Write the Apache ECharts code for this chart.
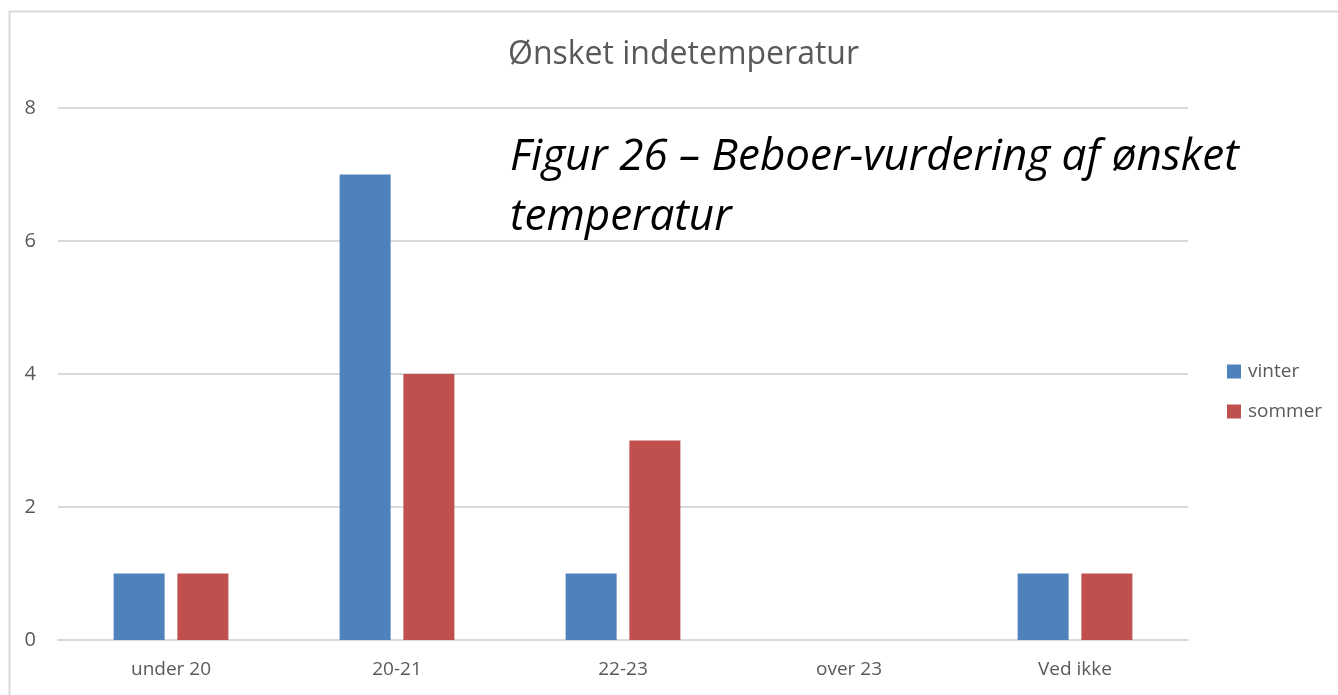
<!DOCTYPE html>
<html>
<head>
<meta charset="utf-8">
<script src="https://cdn.jsdelivr.net/npm/echarts@6/dist/echarts.min.js"></script>
<style>
  html, body { margin: 0; padding: 0; background: #fff; }
  #chart { width: 1338px; height: 695px; }
</style>
</head>
<body>
<div id="chart"></div>
<script>
// data
var categories = ['under 20', '20-21', '22-23', 'over 23', 'Ved ikke'];
var vinter = [1, 7, 1, 0, 1];
var sommer = [1, 4, 3, 0, 1];
var yTicks = [0, 2, 4, 6, 8];

var font = 'Open Sans';
var myChart = echarts.init(document.getElementById('chart'));
var option = {
  animation: false,
  title: {
    text: 'Ønsket indetemperatur',
    left: 503,
    top: 34,
    textStyle: { fontFamily: font, fontSize: 32, fontWeight: 'normal', color: '#595959' }
  },
  legend: {
    orient: 'vertical',
    left: 1222,
    top: 357,
    icon: 'rect',
    itemWidth: 14,
    itemHeight: 14,
    itemGap: 21,
    itemStyle: { borderWidth: 0 },
    textStyle: { fontFamily: font, fontSize: 19, color: '#595959', padding: [0, 0, 0, 2] },
    data: ['vinter', 'sommer']
  },
  grid: { left: 58, right: 150, top: 108, bottom: 55, containLabel: false },
  xAxis: {
    type: 'category',
    data: categories,
    axisLine: { lineStyle: { color: '#d9d9d9', width: 2 } },
    axisTick: { show: false },
    axisLabel: { fontFamily: font, fontSize: 19, color: '#595959', margin: 20 }
  },
  yAxis: {
    type: 'value',
    min: yTicks[0],
    max: yTicks[yTicks.length - 1],
    interval: 2,
    axisLine: { show: false },
    axisTick: { show: false },
    splitLine: { lineStyle: { color: '#d9d9d9', width: 2 } },
    axisLabel: { fontFamily: font, fontSize: 20, color: '#595959', margin: 22 }
  },
  series: [
    {
      name: 'vinter',
      type: 'bar',
      data: vinter,
      barWidth: 51,
      barGap: '25%',
      itemStyle: { color: '#4f81bd' }
    },
    {
      name: 'sommer',
      type: 'bar',
      data: sommer,
      barWidth: 51,
      itemStyle: { color: '#c0504d' }
    }
  ],
  graphic: [
    {
      type: 'rect',
      left: 7,
      top: 9,
      shape: { width: 1340, height: 700 },
      style: { fill: 'none', stroke: '#d9d9d9', lineWidth: 2 },
      silent: true
    },
    {
      type: 'text',
      left: 510,
      top: 127,
      style: {
        text: 'Figur 26 – Beboer-vurdering af ønsket\ntemperatur',
        font: 'italic 44px "Open Sans"',
        lineHeight: 60,
        fill: '#000'
      }
    }
  ]
};
option && myChart.setOption(option);
window.addEventListener('resize', function () {
  myChart.resize();
});
</script>
</body>
</html>
